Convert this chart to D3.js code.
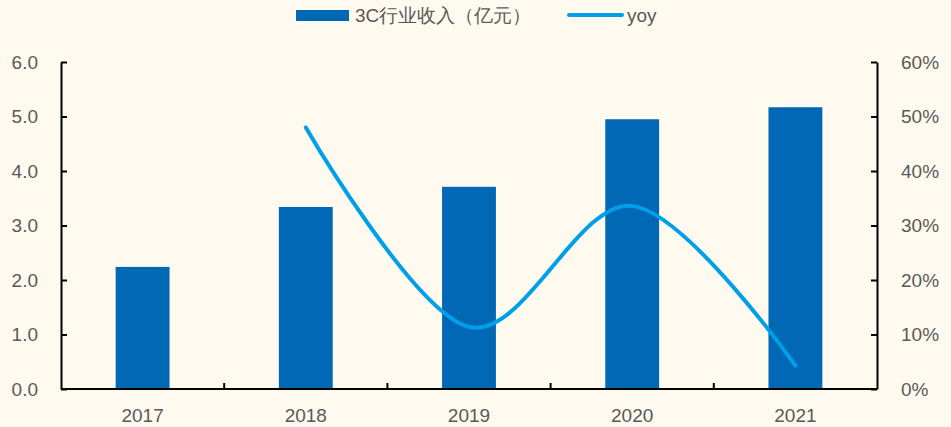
<!DOCTYPE html>
<html>
<head>
<meta charset="utf-8">
<script src="https://cdn.jsdelivr.net/npm/d3@7"></script>
<style>
  body { margin: 0; background: #FEFAF0; }
  svg text { font-family: "Liberation Sans", Arial, sans-serif; fill: #595959; }
</style>
</head>
<body>
<div id="chart"></div>
<script>
// data
var years = ["2017", "2018", "2019", "2020", "2021"];
var revenue = [2.24, 3.34, 3.71, 4.95, 5.17];
var yoyYears = ["2018", "2019", "2020", "2021"];
var yoy = [0.48, 0.114, 0.336, 0.043];
var leftTicks = [0, 1, 2, 3, 4, 5, 6];
var rightTicks = [0, 0.1, 0.2, 0.3, 0.4, 0.5, 0.6];

var size = { width: 951, height: 427 };
var margin = { top: 62, right: 74, bottom: 38, left: 61 };
var inner_width = size.width - margin.left - margin.right;
var inner_height = size.height - margin.top - margin.bottom;

var svg = d3.select("#chart").append("svg")
	.attr("width", size.width)
	.attr("height", size.height)
	.style("background", "#FEFAF0");

var g = svg.append("g")
	.attr("transform", "translate(" + margin.left + "," + margin.top + ")");

var x = d3.scaleBand().domain(years).range([0, inner_width]);
var yLeft = d3.scaleLinear().domain([0, 6]).range([inner_height, 0]);
var yRight = d3.scaleLinear().domain([0, 0.6]).range([inner_height, 0]);

// bars
g.selectAll("rect.bar")
	.data(revenue)
	.enter()
	.append("rect")
	.attr("class", "bar")
	.attr("x", function(d, i) { return x(years[i]) + x.bandwidth() * 0.335; })
	.attr("width", x.bandwidth() * 0.33)
	.attr("y", function(d) { return yLeft(d); })
	.attr("height", function(d) { return inner_height - yLeft(d); })
	.attr("fill", "#0068B5");

// yoy line
var line = d3.line()
	.x(function(d, i) { return x(yoyYears[i]) + x.bandwidth() / 2; })
	.y(function(d) { return yRight(d); })
	.curve(d3.curveCardinal.tension(0));

g.append("path")
	.datum(yoy)
	.attr("d", line)
	.attr("fill", "none")
	.attr("stroke", "#00A0E9")
	.attr("stroke-width", 4)
	.attr("stroke-linecap", "round");

// left axis
var leftAxis = d3.axisRight(yLeft)
	.tickValues(leftTicks)
	.tickSize(6)
	.tickSizeOuter(0)
	.tickFormat(d3.format(".1f"));
var gl = g.append("g").call(leftAxis);
gl.select(".domain").attr("stroke", "#000").attr("stroke-width", 2);
gl.selectAll(".tick line").attr("stroke", "#000").attr("stroke-width", 2);
gl.selectAll(".tick text")
	.attr("x", -23)
	.attr("text-anchor", "end")
	.style("font-size", "19px");

// right axis
var rightAxis = d3.axisLeft(yRight)
	.tickValues(rightTicks)
	.tickSize(6)
	.tickSizeOuter(0)
	.tickFormat(d3.format(".0%"));
var gr = g.append("g")
	.attr("transform", "translate(" + inner_width + ",0)")
	.call(rightAxis);
gr.select(".domain").attr("stroke", "#000").attr("stroke-width", 2);
gr.selectAll(".tick line").attr("stroke", "#000").attr("stroke-width", 2);
gr.selectAll(".tick text")
	.attr("x", 24)
	.attr("text-anchor", "start")
	.style("font-size", "19px");

// bottom axis: ticks between categories, pointing up
var gb = g.append("g").attr("transform", "translate(0," + inner_height + ")");
gb.append("line")
	.attr("x1", 0).attr("x2", inner_width)
	.attr("stroke", "#000").attr("stroke-width", 2);
gb.selectAll("line.sep")
	.data(years.slice(1))
	.enter()
	.append("line")
	.attr("class", "sep")
	.attr("x1", function(d) { return x(d); })
	.attr("x2", function(d) { return x(d); })
	.attr("y1", 0).attr("y2", -6)
	.attr("stroke", "#000").attr("stroke-width", 2);
gb.selectAll("text")
	.data(years)
	.enter()
	.append("text")
	.attr("x", function(d) { return x(d) + x.bandwidth() / 2; })
	.attr("y", 33)
	.attr("text-anchor", "middle")
	.style("font-size", "19px")
	.text(function(d) { return d; });

// legend
var legend = svg.append("g");
legend.append("rect")
	.attr("x", 296).attr("y", 10)
	.attr("width", 53).attr("height", 11)
	.attr("fill", "#0068B5");
legend.append("text")
	.attr("x", 355).attr("y", 22)
	.style("font-size", "19px")
	.text("3C行业收入（亿元）");
legend.append("line")
	.attr("x1", 569).attr("x2", 622)
	.attr("y1", 15).attr("y2", 15)
	.attr("stroke", "#00A0E9").attr("stroke-width", 4)
	.attr("stroke-linecap", "round");
legend.append("text")
	.attr("x", 627).attr("y", 22)
	.style("font-size", "19px")
	.text("yoy");
</script>
</body>
</html>
